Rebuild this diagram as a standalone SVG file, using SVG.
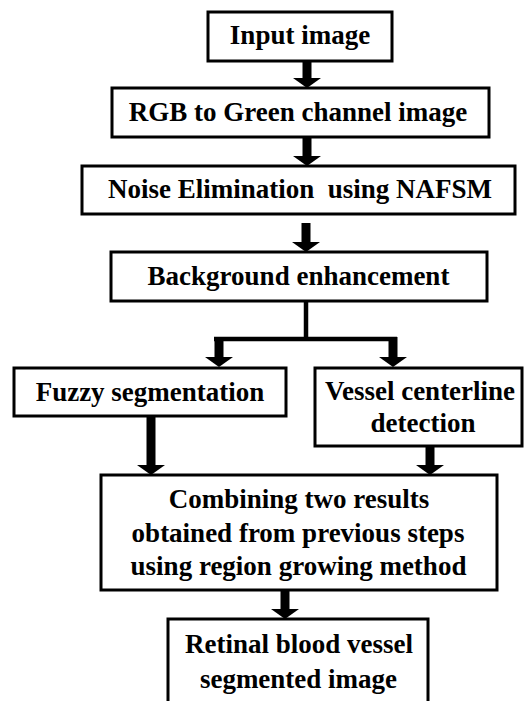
<svg xmlns="http://www.w3.org/2000/svg" width="526" height="701" viewBox="0 0 526 701">
<style>
.box{fill:#fff;stroke:#000;stroke-width:3}
text{font-family:'Liberation Serif','Times New Roman',serif;font-weight:bold;font-size:27px;fill:#000;text-anchor:middle}
.arr{stroke:#000;stroke-width:9;fill:none;marker-end:url(#ah)}
.thin{stroke:#000;stroke-width:4.5;fill:none}
</style>
<defs>
<marker id="ah" markerUnits="userSpaceOnUse" viewBox="0 0 10 28" markerWidth="10" markerHeight="28" refX="0" refY="14" orient="auto">
<path d="M0,0 L10,14 L0,28 Z" fill="#000"/>
</marker>
</defs>
<rect width="526" height="701" fill="#fff"/>
<g id="connectors">
<line class="arr" x1="307" y1="61" x2="307" y2="78"/>
<line class="arr" x1="307" y1="137" x2="307" y2="156"/>
<line class="arr" x1="306" y1="223" x2="306" y2="242"/>
<line class="thin" x1="306" y1="301" x2="306" y2="339"/>
<line class="thin" x1="214" y1="339" x2="397" y2="339"/>
<line class="arr" x1="219" y1="337" x2="219" y2="357"/>
<line class="arr" x1="393" y1="337" x2="393" y2="357"/>
<line class="arr" x1="151" y1="416" x2="151" y2="465"/>
<line class="arr" x1="430" y1="446" x2="430" y2="465"/>
<line class="arr" x1="285" y1="590" x2="285" y2="609"/>
</g>
<g id="n1"><rect class="box" x="208" y="12" width="184" height="49"/><text x="300" y="44">Input image</text></g>
<g id="n2"><rect class="box" x="112" y="88" width="377" height="49"/><text x="298" y="121">RGB to Green channel image</text></g>
<g id="n3"><rect class="box" x="82" y="166" width="433" height="48"/><text x="300" y="198" xml:space="preserve">Noise Elimination  using NAFSM</text></g>
<g id="n4"><rect class="box" x="111" y="252" width="376" height="49"/><text x="298.5" y="285">Background enhancement</text></g>
<g id="n5"><rect class="box" x="14" y="368" width="272" height="48"/><text x="150" y="401">Fuzzy segmentation</text></g>
<g id="n6"><rect class="box" x="315" y="368" width="207" height="78"/><text x="420" y="400">Vessel centerline</text><text x="423" y="432">detection</text></g>
<g id="n7"><rect class="box" x="101" y="475" width="396" height="115"/><text x="299" y="508">Combining two results</text><text x="298" y="542">obtained from previous steps</text><text x="298.5" y="575">using region growing method</text></g>
<g id="n8"><rect class="box" x="168" y="619" width="260" height="100"/><text x="299" y="653">Retinal blood vessel</text><text x="298.5" y="688">segmented image</text></g>
</svg>
